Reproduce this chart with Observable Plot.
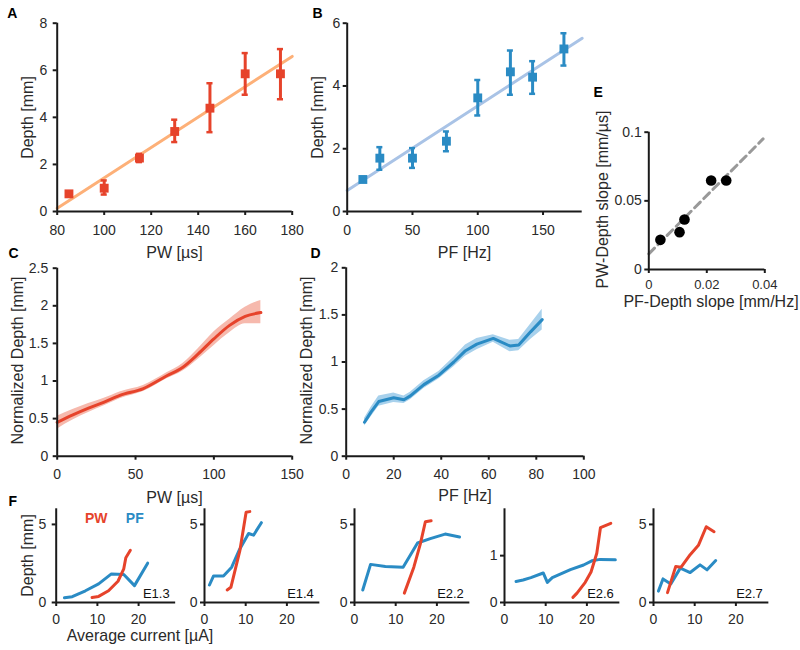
<!DOCTYPE html>
<html><head><meta charset="utf-8">
<script src="https://cdn.jsdelivr.net/npm/d3@7"></script>
<script src="https://cdn.jsdelivr.net/npm/@observablehq/plot@0.6"></script>
<style>
body{margin:0;background:#fff;}
#fig{position:relative;width:800px;height:650px;overflow:hidden;background:#fff;}
#fig svg{position:absolute;overflow:visible;}
</style></head><body><div id="fig"></div>
<script>
// ---------- Panel A: PW vs depth ----------
const pwA = [85, 100, 115, 130, 145, 160, 175];
const depthA = [0.75, 0.99, 2.27, 3.40, 4.39, 5.85, 5.85];
const loA = [0.65, 0.72, 2.10, 2.95, 3.37, 4.96, 4.77];
const hiA = [0.85, 1.32, 2.45, 3.90, 5.45, 6.73, 6.90];
const fitAx = [80, 180];
const fitAy = [0.14, 6.59];
const xTicksA = [80, 100, 120, 140, 160, 180];
const yTicksA = [0, 2, 4, 6, 8];

// ---------- Panel B: PF vs depth ----------
const pfB = [12, 25, 50, 76, 100, 125, 142, 166];
const depthB = [1.02, 1.70, 1.70, 2.24, 3.62, 4.45, 4.28, 5.18];
const loB = [0.95, 1.33, 1.39, 1.92, 3.06, 3.72, 3.75, 4.65];
const hiB = [1.10, 2.05, 2.02, 2.55, 4.19, 5.13, 4.79, 5.68];
const fitBx = [0, 180];
const fitBy = [0.67, 5.52];
const xTicksB = [0, 50, 100, 150];
const yTicksB = [0, 2, 4, 6];

// ---------- Panel C: normalized depth vs PW ----------
const pwC = [0, 10, 20, 30, 40, 55, 70, 80, 90, 100, 110, 120, 130];
const normC = [0.45, 0.55, 0.64, 0.72, 0.81, 0.90, 1.07, 1.18, 1.36, 1.56, 1.74, 1.86, 1.91];
const loC = [0.36, 0.48, 0.58, 0.67, 0.765, 0.86, 1.03, 1.13, 1.29, 1.47, 1.64, 1.76, 1.76];
const hiC = [0.53, 0.62, 0.70, 0.77, 0.855, 0.94, 1.11, 1.23, 1.43, 1.65, 1.82, 1.98, 2.07];
const xTicksC = [0, 50, 100, 150];
const yTicksC = [0, 0.5, 1, 1.5, 2, 2.5];

// ---------- Panel D: normalized depth vs PF ----------
const pfD = [7.7, 10.5, 13.7, 20, 24.3, 27, 32.7, 39, 45.3, 50.2, 55, 61.9, 68.9, 72.6, 77.6, 82.5];
const normD = [0.36, 0.47, 0.58, 0.62, 0.60, 0.64, 0.76, 0.86, 1.00, 1.12, 1.19, 1.25, 1.17, 1.18, 1.32, 1.45];
const loD = [0.32, 0.42, 0.53, 0.57, 0.56, 0.60, 0.72, 0.82, 0.95, 1.06, 1.13, 1.21, 1.11, 1.12, 1.24, 1.34];
const hiD = [0.40, 0.52, 0.64, 0.67, 0.64, 0.68, 0.80, 0.90, 1.05, 1.18, 1.25, 1.29, 1.23, 1.24, 1.40, 1.56];
const xTicksD = [0, 20, 40, 60, 80, 100];
const yTicksD = [0, 0.5, 1, 1.5, 2];

// ---------- Panel E: slopes ----------
const pfSlope = [0.0040, 0.0106, 0.0123, 0.0215, 0.0267];
const pwSlope = [0.0216, 0.0272, 0.0364, 0.0648, 0.0648];
const fitEx = [0, 0.0394];
const fitEy = [0.0114, 0.0951];
const xTicksE = [0, 0.02, 0.04];
const yTicksE = [0, 0.05, 0.1];

// ---------- Panel F: per-electrode depth vs average current ----------
const fNames = ["E1.3", "E1.4", "E2.2", "E2.6", "E2.7"];
const fPwCur = [
  [8.7, 10.3, 12.7, 15.0, 16.4, 16.9, 18.0],
  [5.5, 6.4, 8.6, 10.1, 11.0],
  [12.1, 14.4, 16.0, 17.2, 18.6],
  [16.6, 17.6, 19.6, 21.0, 22.4, 23.3, 25.8],
  [3.4, 5.4, 6.7, 8.9, 10.9, 12.8, 14.7]
];
const fPwDepth = [
  [0.32, 0.39, 0.75, 1.36, 2.16, 2.87, 3.34],
  [0.80, 0.97, 3.34, 5.78, 5.82],
  [0.60, 2.26, 3.77, 5.17, 5.24],
  [0.11, 0.20, 0.43, 0.65, 1.05, 1.60, 1.69],
  [0.63, 2.31, 2.26, 3.06, 3.66, 4.85, 4.53]
];
const fPfCur = [
  [2.0, 3.9, 7.1, 10.3, 13.4, 16.4, 19.0, 22.2],
  [1.2, 2.2, 4.6, 6.6, 8.4, 10.7, 11.9, 13.8],
  [2.0, 3.9, 7.5, 11.8, 15.3, 18.4, 22.0, 25.5],
  [2.8, 4.5, 6.4, 9.4, 10.4, 11.6, 16.0, 19.2, 21.2, 23.2, 26.9],
  [1.2, 2.3, 4.2, 6.5, 8.9, 11.3, 13.0, 15.1]
];
const fPfDepth = [
  [0.30, 0.37, 0.75, 1.19, 1.83, 1.79, 1.08, 2.52],
  [1.12, 1.70, 1.70, 2.26, 3.34, 4.42, 4.31, 5.11],
  [0.80, 2.44, 2.31, 2.26, 3.81, 4.09, 4.38, 4.20],
  [0.45, 0.48, 0.53, 0.63, 0.43, 0.53, 0.70, 0.80, 0.89, 0.92, 0.91],
  [0.73, 1.51, 1.19, 2.20, 1.92, 2.41, 2.09, 2.69]
];
const fXMax = [29, 28, 28, 28, 28];
const fYMax = [6, 6, 6, 2, 6];
const fYTicks = [[0, 5], [0, 5], [0, 5], [0, 1], [0, 5]];
const fXTicks = [0, 10, 20];
const legendLabels = ["PW", "PF"];

// ---------- styling ----------
const RED = "#e6432b", BLUE = "#2a8bc4", ORANGE = "#fdb078", LBLUE = "#a9c3e6";
const CBAND = "#f6b9ad", DBAND = "#a8d1ec", AX = "#1a1a1a", TXT = "#2a2a2a";
const FONT = "'Liberation Sans', Arial, Helvetica, sans-serif";
const fig = document.getElementById("fig");
const fmt = d => String(d);

function panel(o) {
  const [sx0, sy0, sx1, sy1] = o.svg;
  const [fx0, fy0, fx1, fy1] = o.frame;
  const at = (px, py) => ({frameAnchor: "top-left", dx: px - fx0, dy: py - fy0});
  const texts = (o.texts || []).map(t => Plot.text([t.s], {
    text: d => d, ...at(t.x, t.y), rotate: t.rot || 0,
    textAnchor: t.anchor || "middle", lineAnchor: "middle",
    fontSize: t.size || 16, fontWeight: t.bold ? "bold" : "normal",
    fill: t.fill || TXT
  }));
  const chart = Plot.plot({
    width: sx1 - sx0, height: sy1 - sy0,
    marginLeft: fx0 - sx0, marginTop: fy0 - sy0,
    marginRight: sx1 - fx1, marginBottom: sy1 - fy1,
    x: {domain: o.xd}, y: {domain: o.yd},
    style: {fontFamily: FONT, fontSize: "14px", color: TXT, background: "transparent", overflow: "visible"},
    marks: [
      ...o.marks,
      Plot.ruleX([o.xd[0]], {stroke: AX, strokeWidth: 2}),
      Plot.ruleY([o.yd[0]], {stroke: AX, strokeWidth: 2}),
      Plot.axisX({ticks: o.xt, tickFormat: fmt, tickSize: 4, tickPadding: o.xpad ?? 9, fontSize: o.xfs ?? 14, label: null, stroke: AX, fill: TXT, strokeWidth: 2}),
      Plot.axisY({ticks: o.yt, tickFormat: fmt, tickSize: 4, tickPadding: o.ypad ?? 5, fontSize: 14, label: null, stroke: AX, fill: TXT, strokeWidth: 2}),
      ...texts
    ]
  });
  chart.style.left = sx0 + "px";
  chart.style.top = sy0 + "px";
  fig.append(chart);
}

// Panel A
{
  const d = pwA.map((x, i) => ({x, y: depthA[i], lo: loA[i], hi: hiA[i]}));
  const f = fitAx.map((x, i) => ({x, y: fitAy[i]}));
  panel({
    svg: [0, 0, 300, 265], frame: [56.7, 22.7, 291.7, 211],
    xd: [80, 180], yd: [0, 8], xt: xTicksA, yt: yTicksA, ypad: 6, xpad: 10,
    marks: [
      Plot.line(f, {x: "x", y: "y", stroke: ORANGE, strokeWidth: 3}),
      Plot.ruleX(d, {x: "x", y1: "lo", y2: "hi", stroke: RED, strokeWidth: 3}),
      Plot.ruleY(d, {y: "hi", x1: p => p.x - 1.3, x2: p => p.x + 1.3, stroke: RED, strokeWidth: 2.5}),
      Plot.ruleY(d, {y: "lo", x1: p => p.x - 1.3, x2: p => p.x + 1.3, stroke: RED, strokeWidth: 2.5}),
      Plot.dot(d, {x: "x", y: "y", symbol: "square", r: 5, fill: RED})
    ],
    texts: [
      {s: "A", x: 6.7, y: 13.3, anchor: "start", bold: true, size: 14, fill: "#000"},
      {s: "PW [µs]", x: 174, y: 252},
      {s: "Depth [mm]", x: 27.5, y: 117, rot: -90}
    ]
  });
}
// Panel B
{
  const d = pfB.map((x, i) => ({x, y: depthB[i], lo: loB[i], hi: hiB[i]}));
  const f = fitBx.map((x, i) => ({x, y: fitBy[i]}));
  panel({
    svg: [300, 0, 590, 265], frame: [346.7, 22.7, 581.7, 211],
    xd: [0, 180], yd: [0, 6], xt: xTicksB, yt: yTicksB, ypad: 3, xpad: 10,
    marks: [
      Plot.line(f, {x: "x", y: "y", stroke: LBLUE, strokeWidth: 3}),
      Plot.ruleX(d, {x: "x", y1: "lo", y2: "hi", stroke: BLUE, strokeWidth: 3}),
      Plot.ruleY(d, {y: "hi", x1: p => p.x - 2.3, x2: p => p.x + 2.3, stroke: BLUE, strokeWidth: 2.5}),
      Plot.ruleY(d, {y: "lo", x1: p => p.x - 2.3, x2: p => p.x + 2.3, stroke: BLUE, strokeWidth: 2.5}),
      Plot.dot(d, {x: "x", y: "y", symbol: "square", r: 5, fill: BLUE})
    ],
    texts: [
      {s: "B", x: 312, y: 13.3, anchor: "start", bold: true, size: 14, fill: "#000"},
      {s: "PF [Hz]", x: 464, y: 252},
      {s: "Depth [mm]", x: 317.5, y: 117, rot: -90}
    ]
  });
}
// Panel E
{
  const d = pfSlope.map((x, i) => ({x, y: pwSlope[i]}));
  const f = fitEx.map((x, i) => ({x, y: fitEy[i]}));
  panel({
    svg: [585, 75, 800, 312], frame: [648.3, 131.7, 764.3, 269],
    xd: [0, 0.04], yd: [0, 0.1], xt: xTicksE, yt: yTicksE, ypad: 3, xpad: 6, xfs: 13,
    marks: [
      Plot.line(f, {x: "x", y: "y", stroke: "#999", strokeWidth: 3, strokeDasharray: "8,5"}),
      Plot.dot(d, {x: "x", y: "y", r: 5.3, fill: "#000"})
    ],
    texts: [
      {s: "E", x: 593, y: 91.7, anchor: "start", bold: true, size: 14, fill: "#000"},
      {s: "PF-Depth slope [mm/Hz]", x: 710.5, y: 301},
      {s: "PW-Depth slope [mm/µs]", x: 602.5, y: 199, rot: -90}
    ]
  });
}
// Panel C
{
  const d = pwC.map((x, i) => ({x, y: normC[i], lo: loC[i], hi: hiC[i]}));
  panel({
    svg: [0, 238, 300, 505], frame: [56.7, 267.7, 291.7, 455.7],
    xd: [0, 150], yd: [0, 2.5], xt: xTicksC, yt: yTicksC, ypad: 5,
    marks: [
      Plot.areaY(d, {x: "x", y1: "lo", y2: "hi", fill: CBAND, curve: "monotone-x"}),
      Plot.line(d, {x: "x", y: "y", stroke: RED, strokeWidth: 3, curve: "monotone-x"})
    ],
    texts: [
      {s: "C", x: 8, y: 253, anchor: "start", bold: true, size: 14, fill: "#000"},
      {s: "PW [µs]", x: 174, y: 497.5},
      {s: "Normalized Depth [mm]", x: 17, y: 360, rot: -90}
    ]
  });
}
// Panel D
{
  const d = pfD.map((x, i) => ({x, y: normD[i], lo: loD[i], hi: hiD[i]}));
  panel({
    svg: [295, 238, 600, 505], frame: [345.7, 267.3, 583.3, 455.7],
    xd: [0, 100], yd: [0, 2], xt: xTicksD, yt: yTicksD, ypad: 4,
    marks: [
      Plot.areaY(d, {x: "x", y1: "lo", y2: "hi", fill: DBAND}),
      Plot.line(d, {x: "x", y: "y", stroke: BLUE, strokeWidth: 3})
    ],
    texts: [
      {s: "D", x: 310, y: 253, anchor: "start", bold: true, size: 14, fill: "#000"},
      {s: "PF [Hz]", x: 464.5, y: 495.5},
      {s: "Normalized Depth [mm]", x: 306, y: 360, rot: -90}
    ]
  });
}
// Panel F
{
  const yAxisX = [55.7, 204.3, 354, 504.3, 653.3];
  const pxPerUnit = 4.12;
  fNames.forEach((name, k) => {
    const pw = fPwCur[k].map((x, i) => ({x, y: fPwDepth[k][i]}));
    const pf = fPfCur[k].map((x, i) => ({x, y: fPfDepth[k][i]}));
    const fx0 = yAxisX[k], fx1 = fx0 + fXMax[k] * pxPerUnit;
    const texts = [
      {s: name, x: fx1 - 6, y: 593, anchor: "end", size: 13, fill: "#111"}
    ];
    if (k === 0) {
      texts.push(
        {s: "F", x: 8, y: 501, anchor: "start", bold: true, size: 14, fill: "#000"},
        {s: legendLabels[0], x: 95.7, y: 518.3, bold: true, size: 14, fill: RED},
        {s: legendLabels[1], x: 134.3, y: 518.3, bold: true, size: 14, fill: BLUE},
        {s: "Depth [mm]", x: 27.5, y: 555, rot: -90},
        {s: "Average current [µA]", x: 139.5, y: 635}
      );
    }
    panel({
      svg: [k === 0 ? 0 : fx0 - 30, 488, fx1 + 10, 650], frame: [fx0, 508.3, fx1, 602],
      xd: [0, fXMax[k]], yd: [0, fYMax[k]], xt: fXTicks, yt: fYTicks[k], xpad: 8, ypad: k === 0 ? 6 : 3,
      marks: [
        Plot.line(pf, {x: "x", y: "y", stroke: BLUE, strokeWidth: 3}),
        Plot.line(pw, {x: "x", y: "y", stroke: RED, strokeWidth: 3})
      ],
      texts
    });
  });
}
</script></body></html>
